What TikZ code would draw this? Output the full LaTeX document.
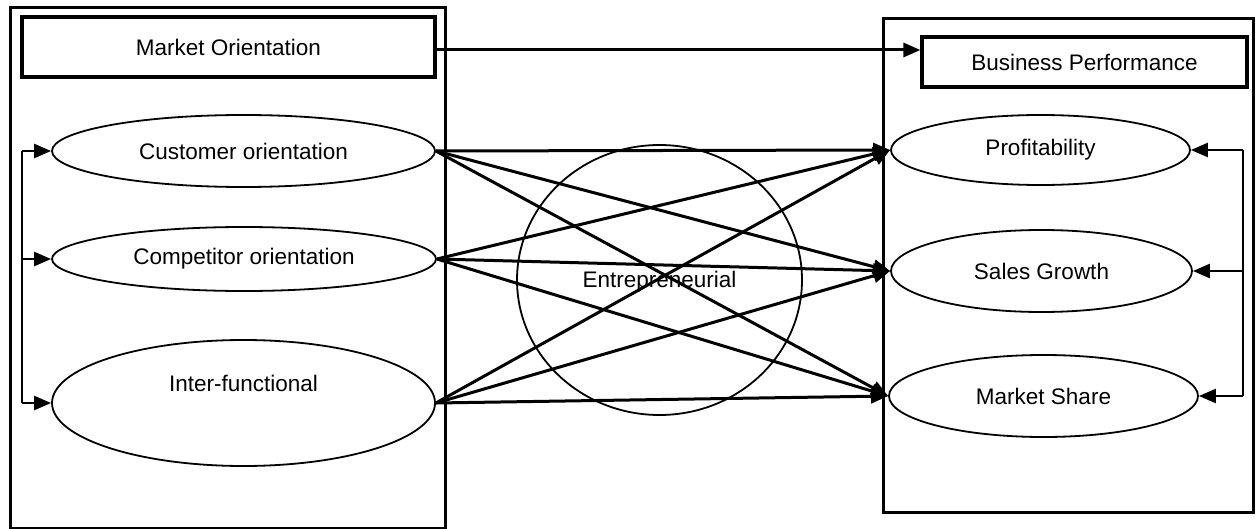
\documentclass[tikz,border=0pt]{standalone}
\usepackage{fontspec}
\setmainfont{Liberation Sans}
\usetikzlibrary{arrows.meta,shapes.geometric,calc}

\tikzset{
  frame/.style={draw, line width=3pt, rectangle, inner sep=0pt},
  titlebox/.style={draw, line width=3.2pt, rectangle, inner sep=0pt},
  construct/.style={draw, line width=1.8pt, ellipse, inner sep=0pt},
  link/.style={line width=3pt, -{Triangle[length=17pt,width=14pt]}},
  feed/.style={line width=2.4pt, -{Triangle[length=17pt,width=14pt]}},
  rail/.style={line width=2.4pt},
}

\begin{document}
\begin{tikzpicture}[x=1pt,y=-1pt,font=\fontsize{22.5}{26}\selectfont]
\useasboundingbox (0,0) rectangle (1257,529);

% outer groups
\node[frame, minimum width=435pt, minimum height=520pt] (mogroup) at (227.5,268) {};
\node[frame, minimum width=370pt, minimum height=493pt] (bpgroup) at (1068.5,265.5) {};

% headings
\node[titlebox, minimum width=413pt, minimum height=60pt] (mo) at (228.5,47) {Market Orientation};
\node[titlebox, minimum width=325pt, minimum height=50pt] (bp) at (1084.5,62) {Business Performance};

% market orientation components
\node[construct, minimum width=383pt, minimum height=72pt] (cust) at (243.5,151) {Customer orientation};
\node[construct, minimum width=384pt, minimum height=64pt] (comp) at (244,259) {Competitor orientation};
\node[construct, minimum width=383pt, minimum height=126pt,
      label={[yshift=20pt]center:Inter-functional}] (inter) at (243.5,403) {};

% performance components
\node[construct, minimum width=299pt, minimum height=70pt] (prof) at (1040.5,150) {Profitability};
\node[construct, minimum width=301pt, minimum height=82pt] (sales) at (1041.5,271) {Sales Growth};
\node[construct, minimum width=309pt, minimum height=82pt] (share) at (1043.5,396) {Market Share};

% moderator
\node[construct, minimum width=285pt, minimum height=270pt,
      label={[yshift=-2pt]center:Entrepreneurial}] (entre) at (659.5,280) {};

% main relationship
\coordinate (moa) at ([yshift=-3pt]mo.east);
\draw[link] (moa) -- (moa -| bp.west);

% left rail
\coordinate (lx) at (22,0);
\draw[rail] (cust.west -| lx) -- (inter.west -| lx);
\draw[feed] (cust.west -| lx) -- (cust.west);
\draw[feed] (comp.west -| lx) -- (comp.west);
\draw[feed] (inter.west -| lx) -- (inter.west);

% right rail
\coordinate (rx) at (1243,0);
\draw[rail] (prof.east -| rx) -- (share.east -| rx);
\draw[feed] (prof.east -| rx) -- (prof.east);
\draw[feed] (sales.east -| rx) -- (sales.east);
\draw[feed] (share.east -| rx) -- (share.east);

% all component links
\foreach \s in {cust,comp,inter}
  \foreach \t in {prof,sales,share}
    \draw[link] (\s.east) -- (\t.west);
\end{tikzpicture}
\end{document}
